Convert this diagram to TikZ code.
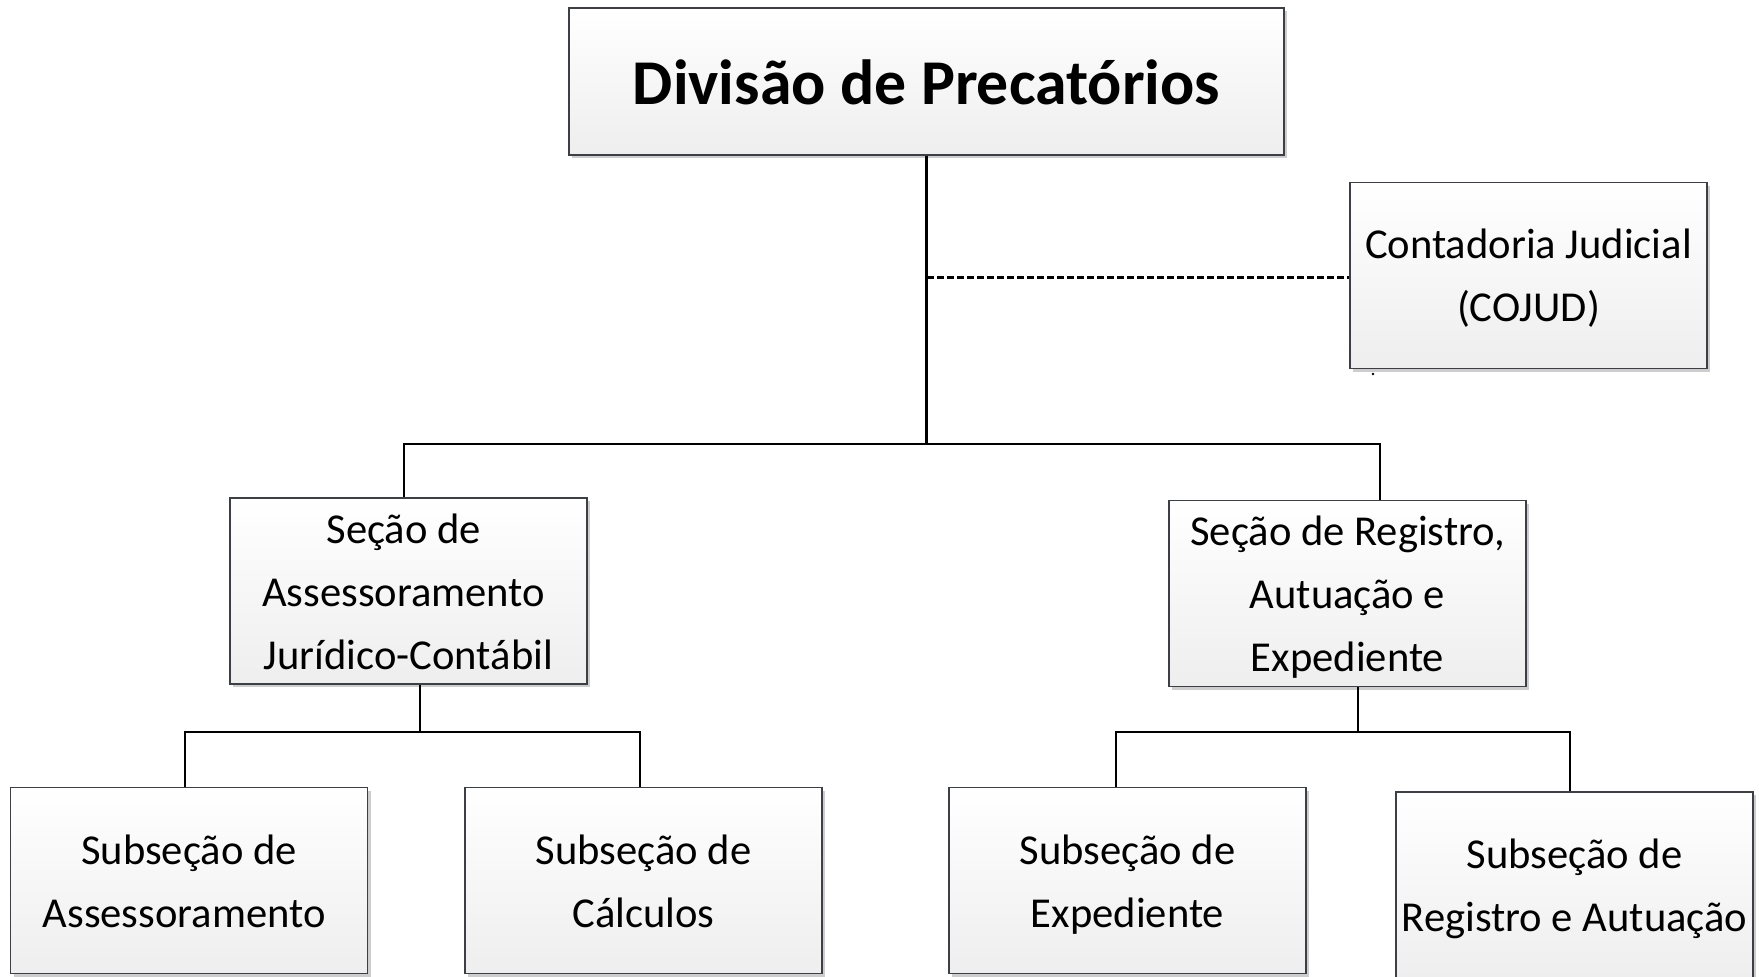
\documentclass[tikz,border=0pt]{standalone}
\usepackage{fontspec}
\setmainfont{Carlito}
\usetikzlibrary{shadows,calc}
\definecolor{boxborder}{RGB}{60,64,68}
\definecolor{boxbot}{RGB}{238,238,238}
\definecolor{shadowgray}{RGB}{205,205,205}
% invisible struts: fixed first-line height, last-line depth, trailing space
\newcommand{\fst}{\rule{0pt}{20.5pt}}
\newcommand{\lst}{\rule[-5.5pt]{0pt}{5.5pt}}
\newcommand{\tfst}{\rule{0pt}{32.7pt}}
\newcommand{\tlst}{\rule[-9.5pt]{0pt}{9.5pt}}
\newcommand{\lsh}{\rule{4.8pt}{0pt}}
\tikzset{
  orgbox/.style={draw=boxborder, line width=0.6pt, top color=white, bottom color=boxbot,
    minimum width=178.5pt, minimum height=93pt, align=center, inner sep=0pt,
    font=\fontsize{21.3}{31.5}\selectfont,
    drop shadow={shadow xshift=1.6pt, shadow yshift=-1.6pt, fill=shadowgray, opacity=1}},
  titlebox/.style={orgbox, minimum width=357.5pt, minimum height=73.5pt,
    font=\fontsize{31.9}{38}\selectfont\bfseries},
  conn/.style={draw=black, line width=1.3pt, line join=miter},
  dashconn/.style={draw=black, line width=1.2pt, dash pattern=on 3.3pt off 1.7pt}
}
\begin{document}
\begin{tikzpicture}[x=0.5pt,y=-0.5pt]
\useasboundingbox (0,0) rectangle (1759,977);
% nodes
\node[titlebox] (top) at (926.5,81.5) {\tfst Divisão de Precatórios\tlst};
\node[orgbox] (cojud) at (1528.5,275.5) {\fst Contadoria Judicial\\(COJUD)\lst};
\node[orgbox] (sec1) at (408.5,591) {\fst Seção de\lsh\\Assessoramento\lsh\\Jurídico-Contábil\lst};
\node[orgbox] (sec2) at (1347.5,593.5) {\fst Seção de Registro,\\Autuação e\\Expediente\lst};
\node[orgbox] (sub1) at (189,880.5) {\fst Subseção de\\Assessoramento\lst\lsh};
\node[orgbox] (sub2) at (643.5,880.5) {\fst Subseção de\\Cálculos\lst};
\node[orgbox] (sub3) at (1127.5,880.5) {\fst Subseção de\\Expediente\lst};
\node[orgbox] (sub4) at (1574.5,885) {\fst Subseção de\\Registro e Autuação\lst};
% junctions
\coordinate (hl) at (404,444);
\coordinate (hr) at (1380,444);
\coordinate (dl) at (927,277.5);
\coordinate (l2) at (420,732);
\coordinate (a1) at (185,732);
\coordinate (a2) at (640,732);
\coordinate (r2) at (1358,732);
\coordinate (b1) at (1116,732);
\coordinate (b2) at (1570,732);
\coordinate (dot) at (1373,374);
% connectors
\draw[conn] (top.south) -- (top.south |- hl);
\draw[conn] (hl |- sec1.north) -- (hl) -- (hr) -- (hr |- sec2.north);
\draw[dashconn] (dl) -- (dl -| cojud.west);
\draw[conn] (l2 |- sec1.south) -- (l2);
\draw[conn] (a1 |- sub1.north) -- (a1) -- (a2) -- (a2 |- sub2.north);
\draw[conn] (r2 |- sec2.south) -- (r2);
\draw[conn] (b1 |- sub3.north) -- (b1) -- (b2) -- (b2 |- sub4.north);
\fill[black] (dot) circle (0.7pt);
\end{tikzpicture}
\end{document}
